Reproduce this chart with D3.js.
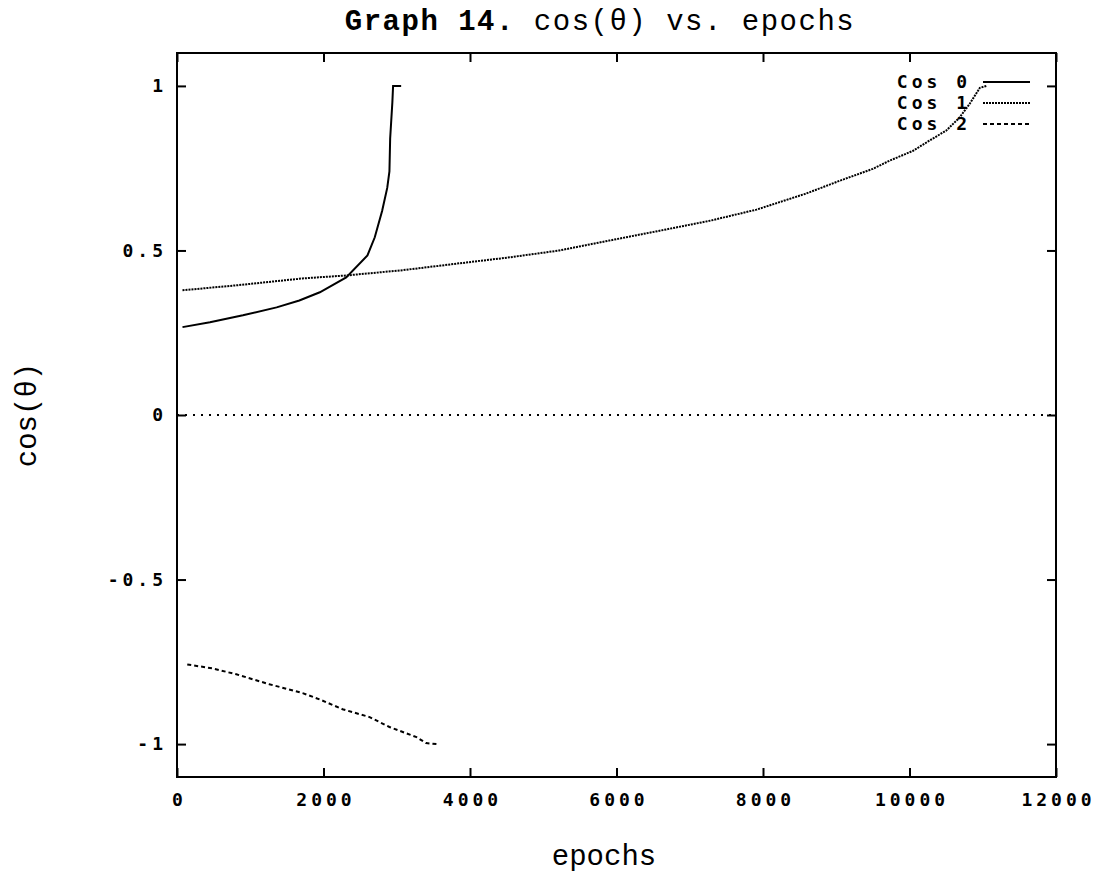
<!DOCTYPE html>
<html>
<head>
<meta charset="utf-8">
<script src="https://d3js.org/d3.v7.min.js"></script>
<style>
  body { margin: 0; background: #fff; }
  .tick line { stroke: #000; stroke-width: 2; }
</style>
</head>
<body>
<script>
// values
const cos0Epochs = [75, 450, 900, 1360, 1670, 1950, 2310, 2600, 2700, 2800, 2870, 2900, 2910, 2940, 2950, 3060];
const cos0Values = [0.267, 0.282, 0.303, 0.327, 0.348, 0.373, 0.418, 0.485, 0.54, 0.62, 0.69, 0.74, 0.84, 0.95, 1.0, 1.0];

const cos1Epochs = [75, 810, 1715, 2310, 3080, 3860, 4540, 5220, 5900, 6590, 7270, 7910, 8590, 9050, 9500, 9730, 10050, 10310, 10500, 10680, 10820, 10960, 11050];
const cos1Values = [0.379, 0.394, 0.415, 0.424, 0.44, 0.461, 0.479, 0.5, 0.53, 0.56, 0.59, 0.624, 0.673, 0.712, 0.748, 0.773, 0.803, 0.839, 0.864, 0.903, 0.945, 0.994, 1.0];

const cos2Epochs = [140, 485, 810, 1260, 1715, 1945, 2260, 2630, 2900, 3270, 3400, 3550];
const cos2Values = [-0.758, -0.77, -0.788, -0.818, -0.845, -0.864, -0.894, -0.918, -0.948, -0.979, -0.997, -1.0];

const seriesNames = ["Cos 0", "Cos 1", "Cos 2"];
const xTicks = [0, 2000, 4000, 6000, 8000, 10000, 12000];
const yTicks = [-1, -0.5, 0, 0.5, 1];

const W = 1096, H = 877;
const margin = { top: 53, right: 40, bottom: 100, left: 177 };
const width = W - margin.left - margin.right;
const height = H - margin.top - margin.bottom;

// gnuplot-ish bitmap font for ticks and key
const smallFont = "font-family: 'DejaVu Sans Mono', monospace; font-weight: bold; font-size: 18px; letter-spacing: 4px;";
const bigFont = "font-family: 'Liberation Mono', monospace; font-size: 29px;";

const svg = d3.select("body").append("svg")
  .attr("width", W)
  .attr("height", H);

const g = svg.append("g")
  .attr("transform", `translate(${margin.left},${margin.top})`);

const x = d3.scaleLinear().domain([0, 12000]).range([0, width]);
const y = d3.scaleLinear().domain([-1.1, 1.1]).range([height, 0]);

const fmt = d => String(d);

// axes, ticks pointing inwards on all four sides
const xAxis = g.append("g")
  .attr("transform", `translate(0,${height})`)
  .call(d3.axisBottom(x).tickValues(xTicks).tickFormat(fmt).tickSizeInner(-9).tickSizeOuter(0));
xAxis.selectAll("text").attr("y", 16).attr("dx", "2px").attr("style", smallFont);

g.append("g")
  .call(d3.axisTop(x).tickValues(xTicks).tickFormat("").tickSizeInner(-9).tickSizeOuter(0));

const yAxis = g.append("g")
  .call(d3.axisLeft(y).tickValues(yTicks).tickFormat(fmt).tickSizeInner(-9).tickSizeOuter(0).tickPadding(10));
yAxis.selectAll("text").attr("style", smallFont);

g.append("g")
  .attr("transform", `translate(${width},0)`)
  .call(d3.axisRight(y).tickValues(yTicks).tickFormat("").tickSizeInner(-9).tickSizeOuter(0));

g.selectAll(".domain").remove();

// frame
g.append("rect")
  .attr("width", width)
  .attr("height", height)
  .attr("fill", "none")
  .attr("stroke", "#000")
  .attr("stroke-width", 2);

// zero axis
g.append("line")
  .attr("x1", 0).attr("x2", width)
  .attr("y1", y(0)).attr("y2", y(0))
  .attr("stroke", "#000")
  .attr("stroke-width", 2)
  .attr("stroke-dasharray", "2,6");

const line = d3.line()
  .x(d => x(d[0]))
  .y(d => y(d[1]));

const series = [
  { name: seriesNames[0], pts: d3.zip(cos0Epochs, cos0Values), dash: null },
  { name: seriesNames[1], pts: d3.zip(cos1Epochs, cos1Values), dash: "2,1" },
  { name: seriesNames[2], pts: d3.zip(cos2Epochs, cos2Values), dash: "4,3" }
];

series.forEach((s, i) => {
  g.append("path")
    .datum(s.pts)
    .attr("fill", "none")
    .attr("stroke", "#000")
    .attr("stroke-width", 2)
    .attr("stroke-dasharray", s.dash)
    .attr("d", line);

  // legend
  const ly = 29 + i * 21;
  g.append("text")
    .attr("x", width - 85)
    .attr("y", ly)
    .attr("dy", "0.35em")
    .attr("text-anchor", "end")
    .attr("style", smallFont)
    .text(s.name);
  g.append("line")
    .attr("x1", width - 73).attr("x2", width - 26)
    .attr("y1", ly).attr("y2", ly)
    .attr("stroke", "#000")
    .attr("stroke-width", 2)
    .attr("stroke-dasharray", s.dash);
});

// title
const title = svg.append("text")
  .attr("x", 600)
  .attr("y", 30)
  .attr("text-anchor", "middle")
  .attr("style", bigFont + " letter-spacing: 1.5px;");
title.append("tspan").attr("font-weight", "bold").text("Graph 14.");
title.append("tspan").text(" cos(θ) vs. epochs");

// axis labels
svg.append("text")
  .attr("x", 604)
  .attr("y", 865)
  .attr("text-anchor", "middle")
  .attr("style", bigFont)
  .text("epochs");

svg.append("text")
  .attr("transform", `translate(36,${margin.top + y(0)}) rotate(-90)`)
  .attr("text-anchor", "middle")
  .attr("style", bigFont)
  .text("cos(θ)");
</script>
</body>
</html>
